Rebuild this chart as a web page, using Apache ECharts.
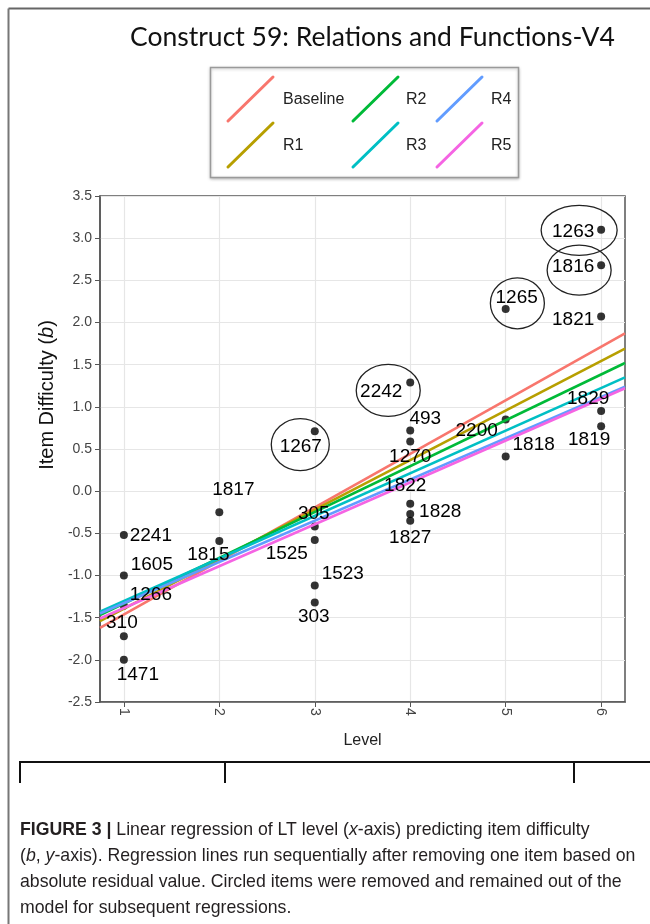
<!DOCTYPE html>
<html><head><meta charset="utf-8">
<script src="https://cdn.jsdelivr.net/npm/echarts@6/dist/echarts.min.js"></script>
<style>html,body{margin:0;padding:0;background:#fff}#c{width:650px;height:924px}</style>
</head><body><div id="c"></div>
<script>
// ---------- data ----------
const levelTicks = [1, 2, 3, 4, 5, 6];
const itemIds = ['2241','1605','1266','310','1471','1817','1815','1267','305','1525','1523','303','2242','493','1270','1822','1828','1827','1265','2200','1818','1263','1816','1821','1829','1819'];
const itemLevel = [1,1,1,1,1,2,2,3,3,3,3,3,4,4,4,4,4,4,5,5,5,6,6,6,6,6];
const itemDifficulty = [-0.52,-1.0,-1.36,-1.72,-2.0,-0.25,-0.59,0.71,-0.42,-0.58,-1.12,-1.32,1.29,0.72,0.59,-0.15,-0.27,-0.35,2.16,0.85,0.41,3.10,2.68,2.07,0.95,0.77];
const removedItems = ['1263','1816','1265','2242','1267'];
const regressionNames = ['Baseline','R1','R2','R3','R4','R5'];
const lineEndX = [0.75, 6.25];
const baselineEnds = [-1.62, 1.87];
const r1Ends = [-1.54, 1.69];
const r2Ends = [-1.47, 1.52];
const r3Ends = [-1.43, 1.35];
const r4Ends = [-1.45, 1.24];
const r5Ends = [-1.51, 1.22];
const yTicks = [-2.5,-2.0,-1.5,-1.0,-0.5,0.0,0.5,1.0,1.5,2.0,2.5,3.0,3.5];

// ---------- styling ----------
const lineColors = ['#F8766D','#B79F00','#00BA38','#00BFC4','#619CFF','#F564E3'];
const regressionEnds = [baselineEnds, r1Ends, r2Ends, r3Ends, r4Ends, r5Ends];
const SYM = 8;
// label centre offsets (px) from the point
const labelOffsets = {
  '2241':[27,1],'1605':[28,-11],'1266':[27,-11],'310':[-2,-13],'1471':[14,15],
  '1817':[14,-22],'1815':[-11,14],
  '1267':[-14,15],'305':[-1,-13],'1525':[-28,14],'1523':[28,-12],'303':[-1,14],
  '2242':[-29,9],'493':[15,-12],'1270':[0,15],'1822':[-5,-18],'1828':[30,-2],'1827':[0,17],
  '1265':[11,-11],'2200':[-29,11],'1818':[28,-12],
  '1263':[-28,2],'1816':[-28,2],'1821':[-28,3],'1829':[-13,-12],'1819':[-12,14]
};
// ellipse centre offsets and radii (px)
const ellipseStyle = {
  '1267':{dx:-14.5,dy:13.3,rx:29,ry:26},
  '2242':{dx:-22,dy:8,rx:32,ry:26},
  '1265':{dx:11.7,dy:-5.7,rx:27,ry:25.5},
  '1263':{dx:-22,dy:0.6,rx:38,ry:25},
  '1816':{dx:-22,dy:5,rx:32,ry:25}
};
const LS = "'Liberation Sans', Arial, sans-serif";

const pointData = itemIds.map((id, i) => ({name: id, value: [itemLevel[i], itemDifficulty[i]]}));
const labelData = itemIds.map((id, i) => ({
  name: id, value: [itemLevel[i], itemDifficulty[i]],
  label: {position: [SYM / 2 + labelOffsets[id][0], SYM / 2 + labelOffsets[id][1]]}
}));
const removedData = removedItems.map(id => {
  const i = itemIds.indexOf(id);
  return {name: id, value: [itemLevel[i], itemDifficulty[i]]};
});

const lineSeries = regressionNames.map((n, k) => ({
  name: n, type: 'line', z: 3, silent: true, showSymbol: false, symbol: 'none',
  data: [[lineEndX[0], regressionEnds[k][0]], [lineEndX[1], regressionEnds[k][1]]],
  lineStyle: {color: lineColors[k], width: 2.6},
  itemStyle: {color: lineColors[k]}
}));

// legend (drawn as graphics, ggplot style)
const legendCols = [228, 353, 437];
const legendTextX = [283, 406, 491];
const legendRowsY = [99, 145];
const legendGraphics = [{
  type: 'rect', shape: {x: 210.5, y: 67.5, width: 308, height: 110},
  style: {fill: '#fff', stroke: '#9a9a9a', lineWidth: 1.5, shadowBlur: 3, shadowColor: 'rgba(0,0,0,0.25)', shadowOffsetY: 1}
}];
regressionNames.forEach((n, k) => {
  const col = Math.floor(k / 2), row = k % 2;
  const cx = legendCols[col], cy = legendRowsY[row];
  legendGraphics.push({type: 'line', shape: {x1: cx, y1: cy + 22, x2: cx + 45, y2: cy - 22},
    style: {stroke: lineColors[k], lineWidth: 3, lineCap: 'round'}});
  legendGraphics.push({type: 'text', x: legendTextX[col], y: cy + 1,
    style: {text: n, fontSize: 16, fontFamily: LS, fill: '#222', verticalAlign: 'middle', align: 'left'}});
});

const captionLines = [
  '{b|FIGURE 3 |} Linear regression of LT level ({i|x}-axis) predicting item difficulty',
  '({i|b}, {i|y}-axis). Regression lines run sequentially after removing one item based on',
  'absolute residual value. Circled items were removed and remained out of the',
  'model for subsequent regressions.'
];
const CAP = 17.7;
const captionGraphics = captionLines.map((t, k) => ({
  type: 'text', x: 20, y: 830 + k * 26,
  style: {text: t, fontSize: CAP, fontFamily: LS, fill: '#231f20', verticalAlign: 'middle', align: 'left',
    rich: {b: {fontWeight: 'bold', fontSize: CAP, fontFamily: LS, fill: '#231f20'},
           i: {fontStyle: 'italic', fontSize: CAP, fontFamily: LS, fill: '#231f20'}}}
}));

const chart = echarts.init(document.getElementById('c'), null, {renderer: 'canvas'});
chart.setOption({
  animation: false,
  backgroundColor: '#fff',
  title: {
    text: 'Construct 59: Relations and Functions-V4', left: 125, top: 19,
    textStyle: {fontFamily: "Lato, 'Open Sans', sans-serif", fontSize: 26.5, fontWeight: 'normal', color: '#111'}
  },
  grid: {left: 100, right: 25, top: 196, bottom: 222, show: true, borderColor: '#555', borderWidth: 1.5, containLabel: false},
  xAxis: {
    type: 'value', min: lineEndX[0], max: lineEndX[1], splitNumber: 5,
    name: 'Level', nameLocation: 'middle', nameGap: 31,
    nameTextStyle: {fontFamily: LS, fontSize: 16, color: '#222'},
    axisLine: {show: true, onZero: false, lineStyle: {color: '#555', width: 1.5}},
    axisTick: {show: true, length: 5, lineStyle: {color: '#555'}, customValues: levelTicks},
    axisLabel: {show: true, rotate: -90, margin: 6, fontFamily: LS, fontSize: 14, color: '#444',
      customValues: levelTicks, formatter: v => String(v)},
    splitLine: {show: true, lineStyle: {color: '#e6e6e6', width: 1.2}}
  },
  yAxis: {
    type: 'value', min: -2.5, max: 3.5, interval: 0.5,
    axisLine: {show: true, onZero: false, lineStyle: {color: '#555', width: 1.5}},
    axisTick: {show: true, length: 5, lineStyle: {color: '#555'}},
    axisLabel: {show: true, margin: 8, fontFamily: LS, fontSize: 14, color: '#444',
      formatter: v => yTicks.indexOf(Math.round(v * 10) / 10) >= 0 ? (Math.round(v * 10) / 10).toFixed(1) : ''},
    splitLine: {show: true, lineStyle: {color: '#e6e6e6', width: 1.2}}
  },
  graphic: [
    {type: 'line', shape: {x1: 8.5, y1: 8.5, x2: 650, y2: 8.5}, style: {stroke: '#666', lineWidth: 2}},
    {type: 'line', shape: {x1: 8.5, y1: 8.5, x2: 8.5, y2: 924}, style: {stroke: '#777', lineWidth: 2}},
    {type: 'line', shape: {x1: 20, y1: 762, x2: 650, y2: 762}, style: {stroke: '#111', lineWidth: 2}},
    {type: 'line', shape: {x1: 20, y1: 761, x2: 20, y2: 783}, style: {stroke: '#111', lineWidth: 2}},
    {type: 'line', shape: {x1: 225, y1: 761, x2: 225, y2: 783}, style: {stroke: '#111', lineWidth: 2}},
    {type: 'line', shape: {x1: 574, y1: 761, x2: 574, y2: 783}, style: {stroke: '#111', lineWidth: 2}},
    {type: 'text', x: 47, y: 395, rotation: Math.PI / 2,
      style: {text: '{n|Item Difficulty (}{it|b}{n|)}', align: 'center', verticalAlign: 'middle',
        rich: {n: {fontFamily: LS, fontSize: 20, fill: '#111'}, it: {fontFamily: LS, fontSize: 20, fontStyle: 'italic', fill: '#111'}}}}
  ].concat(legendGraphics, captionGraphics),
  series: [
    {name: 'items', type: 'scatter', z: 2, silent: true, symbol: 'circle', symbolSize: SYM,
      itemStyle: {color: '#000'}, data: pointData},
    ...lineSeries,
    {name: 'removed', type: 'custom', z: 4, silent: true, data: removedData,
      renderItem: (params, api) => {
        const p = api.coord([api.value(0), api.value(1)]);
        const st = ellipseStyle[removedItems[params.dataIndex]];
        return {type: 'ellipse', shape: {cx: p[0] + st.dx, cy: p[1] + st.dy, rx: st.rx, ry: st.ry},
          style: {fill: 'none', stroke: '#222', lineWidth: 1.3}};
      }},
    {name: 'labels', type: 'scatter', z: 5, silent: true, symbol: 'circle', symbolSize: SYM,
      itemStyle: {color: 'rgba(0,0,0,0)'}, data: labelData,
      label: {show: true, formatter: '{b}', align: 'center', verticalAlign: 'middle',
        fontFamily: LS, fontSize: 19, color: '#000', opacity: 1},
      labelLayout: {hideOverlap: false}}
  ]
});
</script></body></html>
